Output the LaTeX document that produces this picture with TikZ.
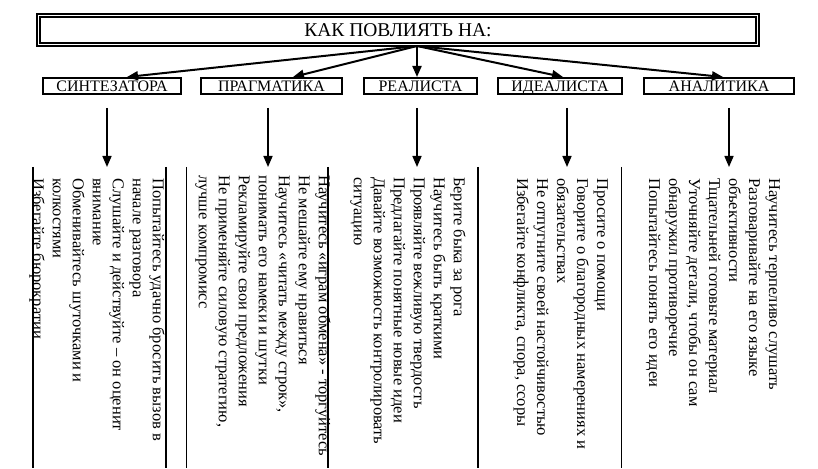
\documentclass[tikz,border=0pt]{standalone}
\usepackage{fontspec}
\setmainfont{Liberation Serif}
\usetikzlibrary{arrows.meta,positioning,calc}
\tikzset{
  head/.style  = {draw, line width=1.5pt, double, double distance=1.8pt,
                  minimum width=719pt, minimum height=29pt, inner sep=0pt,
                  font=\fontsize{19.5}{21}\selectfont},
  kind/.style  = {draw, line width=2pt, minimum height=16pt, inner sep=0pt,
                  text height=10.6pt, text depth=0pt,
                  font=\fontsize{16}{18}\selectfont},
  tips/.style  = {rotate=-90, anchor=north west, align=left, inner sep=0pt,
                  font=\fontsize{16.5}{20}\selectfont},
  sig/.style   = {-{Triangle[length=11pt,width=9pt]}, line width=2pt},
  down/.style  = {sig, line width=1.6pt, shorten <=13pt},
}

\begin{document}
\begin{tikzpicture}[x=1pt,y=1pt]
\useasboundingbox (0,0) rectangle (818,468);
\node[head] (head) at (398,438) {КАК ПОВЛИЯТЬ НА:};
\coordinate (apex) at (417,422);
\node[kind, minimum width=138pt] (sint)  at (112,382)   {СИНТЕЗАТОРА};
\node[kind, minimum width=141pt] (prag)  at (271.5,382) {ПРАГМАТИКА};
\node[kind, minimum width=113pt] (real)  at (420.5,382) {РЕАЛИСТА};
\node[kind, minimum width=124pt] (ideal) at (560,382)   {ИДЕАЛИСТА};
\node[kind, minimum width=150pt] (anal)  at (719,382)   {АНАЛИТИКА};
\draw[sig] (apex) -- ($(sint.north)+(15,0)$);
\draw[sig] (apex) -- ($(prag.north)+(21.5,0)$);
\draw[sig] (apex) -- ($(real.north)+(-3.5,0)$);
\draw[sig] (apex) -- ($(ideal.north)+(3,0)$);
\draw[sig] (apex) -- ($(anal.north)+(4,0)$);
\coordinate (sintin)  at (107,301);
\coordinate (pragin)  at (268,301);
\coordinate (realin)  at (417,301);
\coordinate (idealin) at (567,301);
\coordinate (analin)  at (729,301);
\draw[down] (sint.south -| sintin) -- (sintin);
\draw[down] (prag.south -| pragin) -- (pragin);
\draw[down] (real.south -| realin) -- (realin);
\draw[down] (ideal.south -| idealin) -- (idealin);
\draw[down] (anal.south -| analin) -- (analin);
\foreach \x/\w in {33/2,166/2,186/1,328/2,478/1.4,621/1}
  \draw[line width=\w pt] (\x,301) -- (\x,0);
\node[tips] (tsint) at (165,290) {Попытайтесь удачно бросить вызов в\\
  начале разговора\\Слушайте и действуйте – он оценит\\внимание\\
  Обменивайтесь шуточками и\\колкостями\\Избегайте бюрократии};
\node[tips] (tprag) at (331,293) {Научитесь «играм обмена» - торгуйтесь\\
  Не мешайте ему нравиться\\Научитесь «читать между строк»,\\
  понимать его намеки и шутки\\Рекламируйте свои предложения\\
  Не применяйте силовую стратегию,\\лучше компромисс};
\node[tips] (treal) at (466,291) {Берите быка за рога\\Научитесь быть краткими\\
  Проявляйте вежливую твердость\\Предлагайте понятные новые идеи\\
  Давайте возможность контролировать\\ситуацию};
\node[tips] (tideal) at (608,290) {Просите о помощи\\
  Говорите о благородных намерениях и\\обязательствах\\
  Не отпугните своей настойчивостью\\Избегайте конфликта, спора, ссоры};
\node[tips] (tanal) at (780,290) {Научитесь терпеливо слушать\\
  Разговаривайте на его языке\\объективности\\Тщательней готовьте материал\\
  Уточняйте детали, чтобы он сам\\обнаружил противоречие\\
  Попытайтесь понять его идеи};
\end{tikzpicture}
\end{document}
